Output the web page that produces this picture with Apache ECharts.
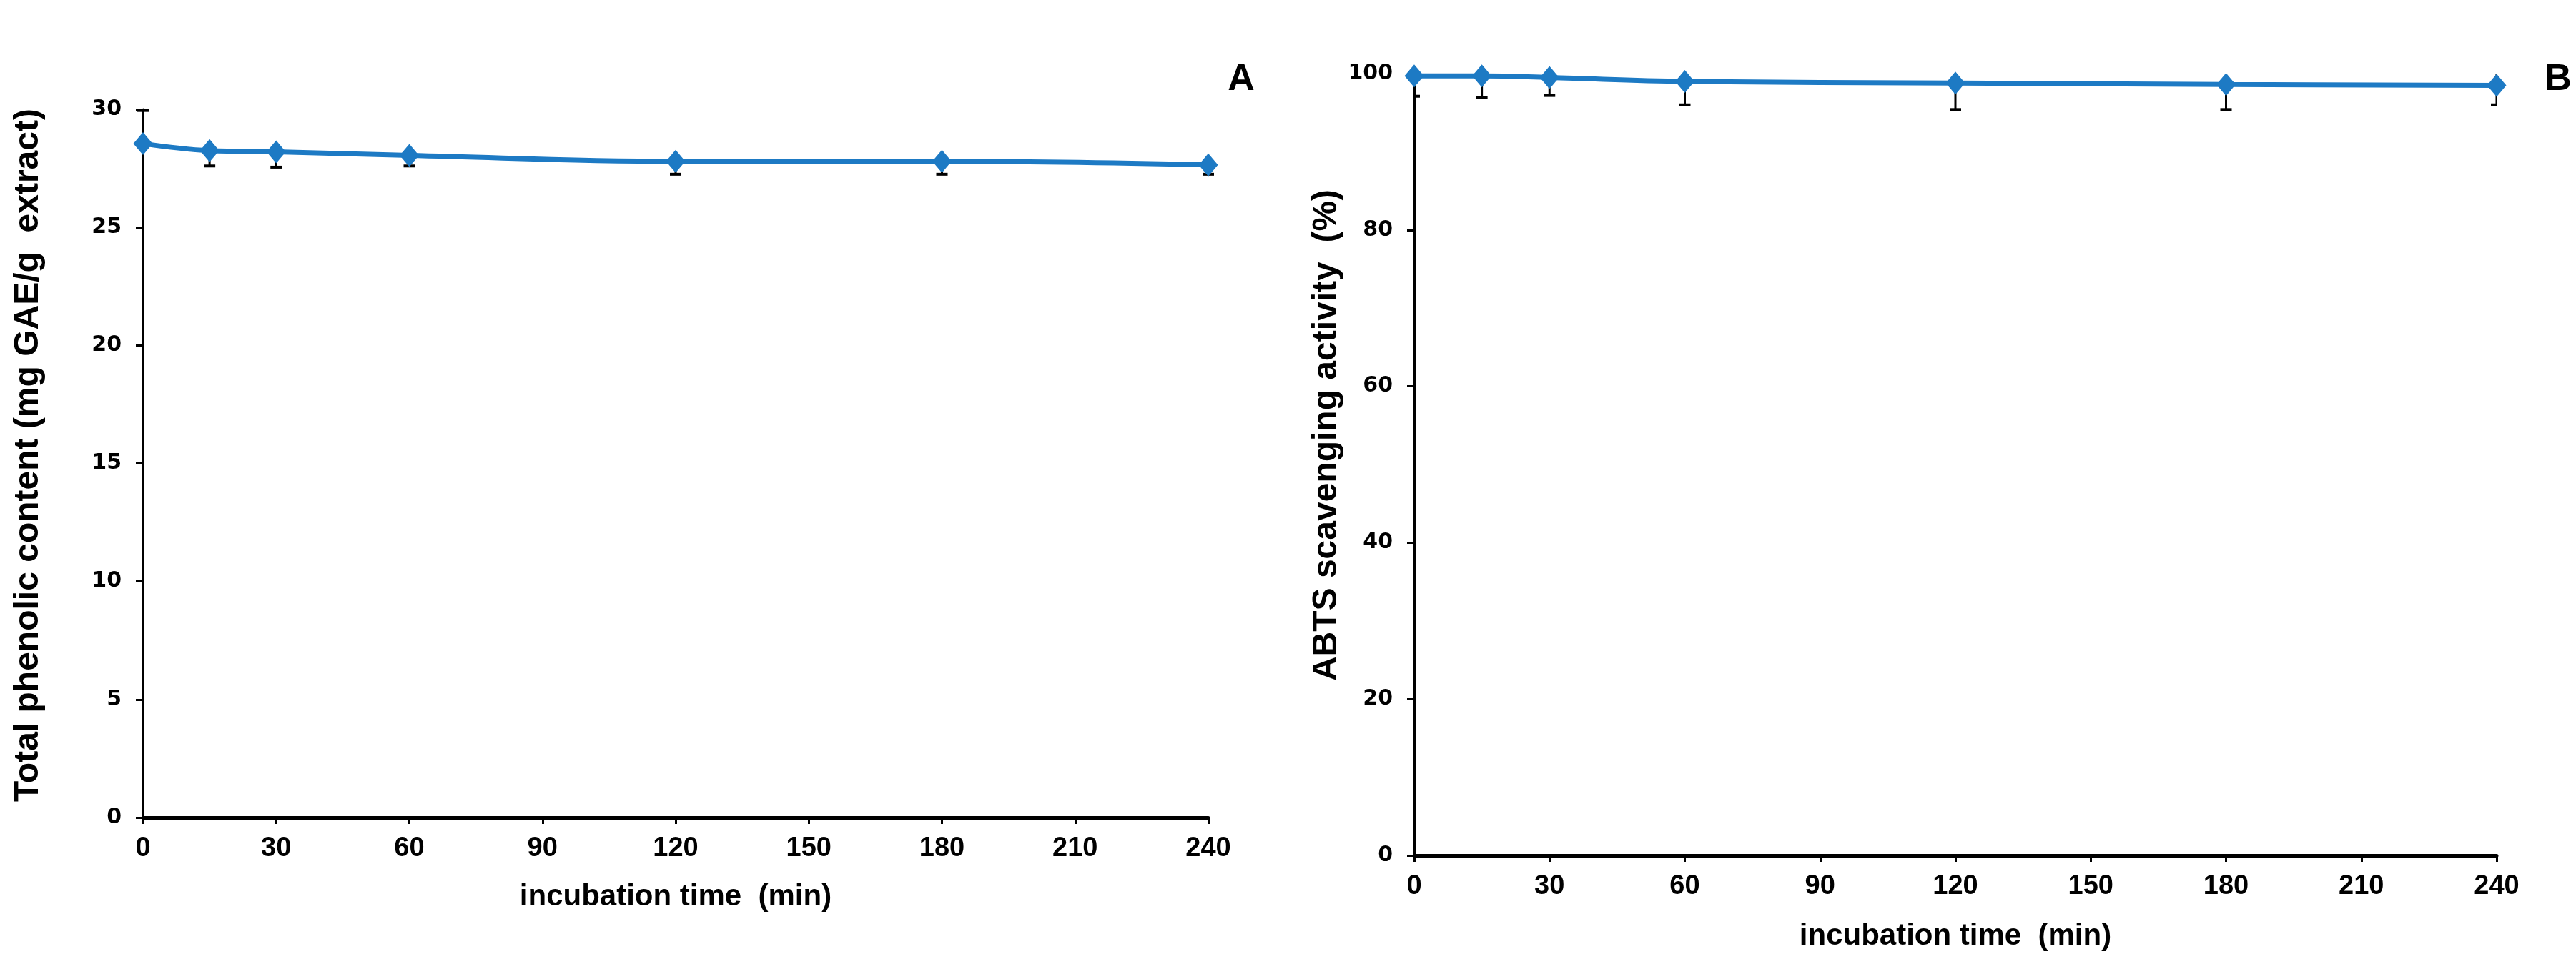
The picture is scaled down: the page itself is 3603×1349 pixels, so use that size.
<!DOCTYPE html>
<html>
<head>
<meta charset="utf-8">
<script src="https://cdn.jsdelivr.net/npm/echarts@6/dist/echarts.min.js"></script>
<style>
html,body{margin:0;padding:0;background:#fff;}
#chart{width:3603px;height:1349px;}
</style>
</head>
<body>
<div id="chart"></div>
<script>
// ---- data ----
const times = [0, 15, 30, 60, 120, 180, 240];
const phenolic = [28.55, 28.25, 28.2, 28.05, 27.8, 27.8, 27.65];
const phenolicErrPlus = [1.4, 0, 0, 0, 0, 0, 0];
const phenolicErrMinus = [0, 0.65, 0.65, 0.45, 0.55, 0.55, 0.4];
const abts = [99.7, 99.7, 99.5, 99.0, 98.8, 98.6, 98.5];
const abtsErr = [2.6, 2.8, 2.3, 3.0, 3.4, 3.2, 2.5];
const xRange = [0, 240, 30];      // min, max, interval
const yRangeA = [0, 30, 5];
const yRangeB = [0, 100, 20];
const xTitle = 'incubation time  (min)';
const yTitleA = 'Total phenolic content (mg GAE/g  extract)';
const yTitleB = 'ABTS scavenging activity  (%)';
const panelLabels = ['A', 'B'];

// ---- styles ----
const BLUE = '#1D7AC4';
const tickFont = { color: '#000', fontFamily: '"DejaVu Sans", sans-serif', fontWeight: 'bold', fontSize: 30 };
const xTickFont = { color: '#000', fontFamily: '"Liberation Sans", Arial, sans-serif', fontWeight: 'bold', fontSize: 38 };

function xAxisCfg(idx, gap) {
  return {
    type: 'value', gridIndex: idx, min: xRange[0], max: xRange[1], interval: xRange[2],
    name: xTitle, nameLocation: 'middle', nameGap: gap,
    nameTextStyle: { color: '#000', fontFamily: '"Liberation Sans", Arial, sans-serif', fontWeight: 'bold', fontSize: 42 },
    axisLine: { show: true, lineStyle: { color: '#000', width: 5 } },
    axisTick: { show: true, inside: false, length: 9, lineStyle: { color: '#000', width: 3 } },
    axisLabel: Object.assign({ margin: 25 }, xTickFont),
    splitLine: { show: false }
  };
}
function yAxisCfg(idx, r) {
  return {
    type: 'value', gridIndex: idx, min: r[0], max: r[1], interval: r[2],
    axisLine: { show: true, lineStyle: { color: '#000', width: 3 } },
    axisTick: { show: true, inside: false, length: 10, lineStyle: { color: '#000', width: 3 } },
    axisLabel: Object.assign({ margin: 30 }, tickFont),
    splitLine: { show: false }
  };
}
function errRender(params, api) {
  const x = api.value(0), lo = api.value(1), hi = api.value(2), mid = api.value(3);
  const pHi = api.coord([x, hi]);
  const pLo = api.coord([x, lo]);
  const w = 8;
  const children = [
    { type: 'line', shape: { x1: pHi[0], y1: pHi[1], x2: pLo[0], y2: pLo[1] }, style: { stroke: '#000', lineWidth: 3 } }
  ];
  if (hi > mid) children.push({ type: 'line', shape: { x1: pHi[0] - w, y1: pHi[1], x2: pHi[0] + w, y2: pHi[1] }, style: { stroke: '#000', lineWidth: 4 } });
  if (lo < mid) children.push({ type: 'line', shape: { x1: pLo[0] - w, y1: pLo[1], x2: pLo[0] + w, y2: pLo[1] }, style: { stroke: '#000', lineWidth: 4 } });
  return { type: 'group', children: children };
}
function errData(vals, plus, minus) {
  return times.map((t, i) => [t, vals[i] - minus[i], vals[i] + plus[i], vals[i]]);
}
function lineData(vals) {
  return times.map((t, i) => [t, vals[i]]);
}

const chart = echarts.init(document.getElementById('chart'), null, { renderer: 'canvas' });
chart.setOption({
  backgroundColor: '#fff',
  animation: false,
  grid: [
    { left: 200, top: 153, width: 1490, height: 991 },
    { left: 1978, top: 103, width: 1514, height: 1094 }
  ],
  xAxis: [xAxisCfg(0, 90), xAxisCfg(1, 92)],
  yAxis: [yAxisCfg(0, yRangeA), yAxisCfg(1, yRangeB)],
  series: [
    { type: 'custom', xAxisIndex: 0, yAxisIndex: 0, renderItem: errRender, data: errData(phenolic, phenolicErrPlus, phenolicErrMinus), encode: { x: 0, y: [1, 2] }, z: 1, clip: false },
    { type: 'custom', xAxisIndex: 1, yAxisIndex: 1, renderItem: errRender, data: errData(abts, abtsErr, abtsErr), encode: { x: 0, y: [1, 2] }, z: 1, clip: true },
    { type: 'line', xAxisIndex: 0, yAxisIndex: 0, data: lineData(phenolic), smooth: 0.4, symbol: 'diamond', symbolSize: [27, 32],
      lineStyle: { color: BLUE, width: 7 }, itemStyle: { color: BLUE }, z: 3 },
    { type: 'line', xAxisIndex: 1, yAxisIndex: 1, data: lineData(abts), smooth: 0.4, symbol: 'diamond', symbolSize: [27, 32],
      lineStyle: { color: BLUE, width: 7 }, itemStyle: { color: BLUE }, z: 3 }
  ],
  graphic: [
    { type: 'text', x: 40, y: 637, rotation: Math.PI / 2,
      style: { text: yTitleA, fill: '#000', font: 'bold 48px "Liberation Sans", Arial, sans-serif', align: 'center', verticalAlign: 'middle' } },
    { type: 'text', x: 1856, y: 609, rotation: Math.PI / 2,
      style: { text: yTitleB, fill: '#000', font: 'bold 48px "Liberation Sans", Arial, sans-serif', align: 'center', verticalAlign: 'middle' } },
    { type: 'text', x: 1736, y: 112,
      style: { text: panelLabels[0], fill: '#000', font: 'bold 52px "Liberation Sans", Arial, sans-serif', align: 'center', verticalAlign: 'middle' } },
    { type: 'text', x: 3578, y: 112,
      style: { text: panelLabels[1], fill: '#000', font: 'bold 52px "Liberation Sans", Arial, sans-serif', align: 'center', verticalAlign: 'middle' } }
  ]
});
</script>
</body>
</html>
